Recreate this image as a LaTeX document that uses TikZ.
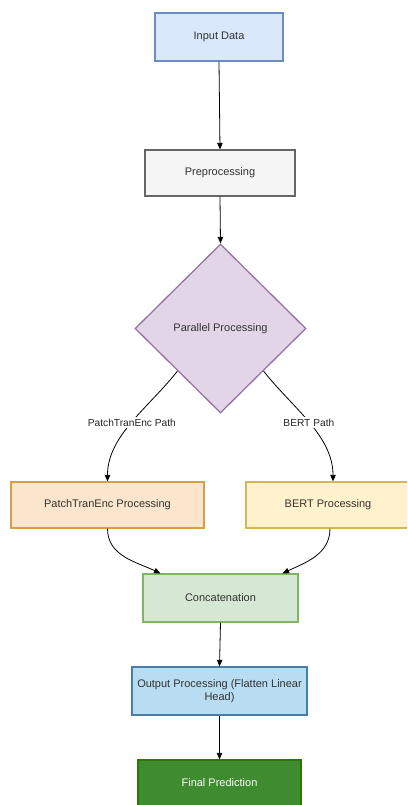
\documentclass[tikz,border=0pt]{standalone}
\usepackage{fontspec}
\setmainfont{Liberation Sans}
\usetikzlibrary{shapes.geometric,arrows.meta}
\definecolor{txt}{HTML}{333333}
\definecolor{inpF}{HTML}{DAE8FC}\definecolor{inpD}{HTML}{6C8EBF}
\definecolor{preF}{HTML}{F5F5F5}\definecolor{preD}{HTML}{666666}
\definecolor{diaF}{HTML}{E1D5E7}\definecolor{diaD}{HTML}{9673A6}
\definecolor{pteF}{HTML}{FCE5CD}\definecolor{pteD}{HTML}{D6A04A}
\definecolor{bertF}{HTML}{FFF2CC}\definecolor{bertD}{HTML}{D6B656}
\definecolor{catF}{HTML}{D5E8D4}\definecolor{catD}{HTML}{82B366}
\definecolor{outF}{HTML}{B8DCF2}\definecolor{outD}{HTML}{4A7FA5}
\definecolor{finF}{HTML}{3F8B2F}\definecolor{finD}{HTML}{2D7600}
\begin{document}
\begin{tikzpicture}[x=1pt,y=1pt,
  box/.style={draw, rectangle, line width=1.3pt, text=txt, font=\fontsize{11}{13}\selectfont, inner sep=2pt},
  arr/.style={draw=black, line width=0.8pt, -{Triangle[length=6.5pt,width=5.5pt]}},
  lbl/.style={fill=white, text=black!85, font=\fontsize{10.2}{12}\selectfont, inner sep=1.5pt}]
\useasboundingbox (0,0) rectangle (407,-805);
\clip (0,0) rectangle (407,-805);
\fill[white] (0,0) rectangle (407,-805);
\node[box, fill=inpF, draw=inpD, minimum width=128pt, minimum height=48pt] (inp) at (219,-37) {Input Data};
\node[box, fill=preF, draw=preD, minimum width=150pt, minimum height=46pt] (pre) at (220,-173) {Preprocessing};
\node[box, diamond, fill=diaF, draw=diaD, minimum width=171pt, minimum height=169pt, inner sep=0pt] (dia) at (220.5,-328.5) {Parallel Processing};
\node[box, fill=pteF, draw=pteD, minimum width=193pt, minimum height=46pt] (pte) at (107.5,-505) {PatchTranEnc Processing};
\node[box, fill=bertF, draw=bertD, minimum width=164pt, minimum height=46pt] (bert) at (328,-505) {BERT Processing};
\node[box, fill=catF, draw=catD, minimum width=155pt, minimum height=48pt] (cat) at (220.5,-598) {Concatenation};
\node[box, fill=outF, draw=outD, minimum width=175pt, minimum height=48pt, align=center] (outp) at (219.5,-691) {Output Processing (Flatten Linear\\Head)};
\node[box, fill=finF, draw=finD, text=white, minimum width=163pt, minimum height=46pt] (fin) at (219.5,-783) {Final Prediction};
\draw[arr] (inp.south) -- (pre.north);
\draw[arr] (pre.south) -- (dia.north);
\coordinate (bertin) at ([xshift=5pt]bert.north);
\path[arr] (dia.south west) to[out=-128, in=90, looseness=0.9] node[lbl, pos=0.5] {PatchTranEnc Path} (pte.north);
\path[arr] (dia.south east) to[out=-52, in=90, looseness=0.9] node[lbl, pos=0.5] {BERT Path} (bertin);
\path[arr] (pte.south) to[out=-90, in=155] ([xshift=-60pt]cat.north);
\coordinate (bertout) at ([xshift=2pt]bert.south);
\path[arr] (bertout) to[out=-90, in=25] ([xshift=62pt]cat.north);
\draw[arr] (cat.south) -- (outp.north);
\draw[arr] (outp.south) -- (fin.north);
\end{tikzpicture}
\end{document}
